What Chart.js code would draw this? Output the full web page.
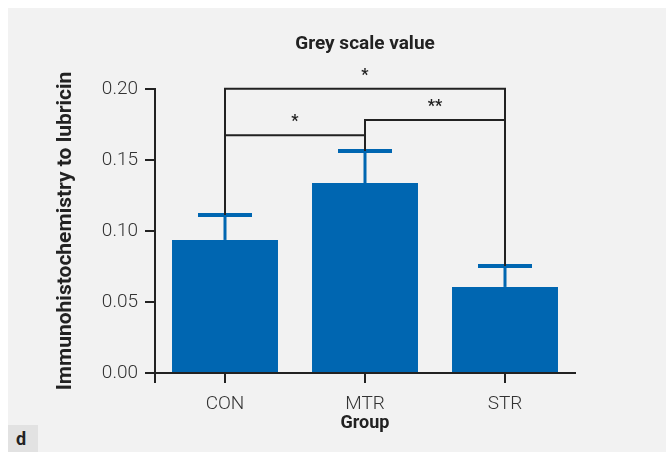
<!DOCTYPE html>
<html>
<head>
<meta charset="utf-8">
<script src="https://cdn.jsdelivr.net/npm/chart.js@4.4.0/dist/chart.umd.min.js"></script>
<style>
  body { margin: 0; background: #fff; }
  #wrap { position: relative; width: 666px; height: 452px; overflow: hidden; }
  #panel { position: absolute; left: 8px; top: 8px; width: 658px; height: 444px; background: #f2f2f2; }
  #tag { position: absolute; left: 8px; top: 425px; width: 30px; height: 27px; background: #e2e2e2;
         font: bold 18px Roboto, sans-serif; color: #222; line-height: 27px; text-indent: 8px; }
  canvas { position: absolute; left: 0; top: 0; }
</style>
</head>
<body>
<div id="wrap">
  <div id="panel"></div>
  <div id="tag">d</div>
  <canvas id="myChart" width="666" height="452"></canvas>
</div>
<script>
// values
var groups = ['CON', 'MTR', 'STR'];
var means = [0.0937, 0.1338, 0.0606];
var errors = [0.0176, 0.0225, 0.0148];
var yTicks = [0, 0.05, 0.10, 0.15, 0.20];

// significance brackets: [from, to, height, label]
var brackets = [
  [0, 2, 0.2001, '*'],
  [1, 2, 0.1782, '**'],
  [0, 1, 0.1674, '*']
];

var blue = '#0066b1';
var ink = '#222222';

var extras = {
  id: 'extras',
  afterDatasetsDraw: function(chart) {
    var ctx = chart.ctx;
    var x = chart.scales.x, y = chart.scales.y;
    var area = chart.chartArea;
    ctx.save();
    // error bars (upper only)
    ctx.strokeStyle = blue;
    for (var i = 0; i < groups.length; i++) {
      var cx = x.getPixelForValue(i);
      var top = y.getPixelForValue(means[i] + errors[i]);
      ctx.lineWidth = 3;
      ctx.beginPath();
      ctx.moveTo(cx, y.getPixelForValue(means[i]));
      ctx.lineTo(cx, top);
      ctx.stroke();
      ctx.lineWidth = 4;
      ctx.beginPath();
      ctx.moveTo(cx - 27, top);
      ctx.lineTo(cx + 27, top);
      ctx.stroke();
    }
    // brackets
    ctx.strokeStyle = ink;
    ctx.lineWidth = 2;
    ctx.fillStyle = ink;
    ctx.font = 'bold 16px Roboto, sans-serif';
    ctx.textAlign = 'center';
    ctx.textBaseline = 'middle';
    brackets.forEach(function(b) {
      var x1 = x.getPixelForValue(b[0]), x2 = x.getPixelForValue(b[1]);
      var h = y.getPixelForValue(b[2]);
      ctx.beginPath();
      ctx.moveTo(x1, y.getPixelForValue(means[b[0]] + errors[b[0]]));
      ctx.lineTo(x1, h);
      ctx.lineTo(x2, h);
      ctx.lineTo(x2, y.getPixelForValue(means[b[1]] + errors[b[1]]));
      ctx.stroke();
      ctx.fillText(b[3], (x1 + x2) / 2, h - 13);
    });
    // y axis runs a little below the x axis
    ctx.beginPath();
    ctx.moveTo(x.left, y.bottom);
    ctx.lineTo(x.left, y.bottom + 10);
    ctx.stroke();
    // title, centred over the plot area
    ctx.font = 'bold 19px Roboto, sans-serif';
    ctx.fillText('Grey scale value', (area.left + area.right) / 2, 44);
    ctx.restore();
  }
};

window.onload = function() {
  var ctx = document.getElementById('myChart').getContext('2d');
  Chart.defaults.font.family = 'Roboto, sans-serif';
  Chart.defaults.color = '#333';
  new Chart(ctx, {
    type: 'bar',
    data: {
      labels: groups,
      datasets: [{
        data: means,
        backgroundColor: blue,
        barPercentage: 0.757,
        categoryPercentage: 1
      }]
    },
    options: {
      responsive: false,
      animation: false,
      layout: { padding: { left: 0, right: 91, top: 89, bottom: 0 } },
      plugins: {
        legend: { display: false },
        tooltip: { enabled: false },
        title: { display: false }
      },
      scales: {
        x: {
          afterFit: function(s) { s.height = 79; },
          grid: { drawOnChartArea: false, offset: false, color: ink, lineWidth: 2, tickLength: 10 },
          border: { color: ink, width: 2 },
          ticks: { font: { size: 19, weight: 300 }, padding: 10, color: '#333' },
          title: { display: true, text: 'Group', color: ink, font: { size: 18, weight: 'bold' }, padding: { top: 0, bottom: 18 } }
        },
        y: {
          min: 0,
          max: 0.2,
          afterFit: function(s) { s.width = 155; },
          afterBuildTicks: function(s) { s.ticks = yTicks.map(function(v) { return { value: v }; }); },
          grid: { drawOnChartArea: false, color: ink, lineWidth: 2, tickLength: 10 },
          border: { color: ink, width: 2 },
          ticks: {
            font: { size: 19, weight: 300 },
            padding: 7,
            color: '#333',
            callback: function(v) { return v.toFixed(2); }
          },
          title: {
            display: true,
            text: 'Immunohistochemistry to lubricin',
            color: ink,
            font: { size: 21, weight: 'bold' },
            padding: { top: 53, bottom: 0 }
          }
        }
      }
    },
    plugins: [extras]
  });
};
</script>
</body>
</html>
